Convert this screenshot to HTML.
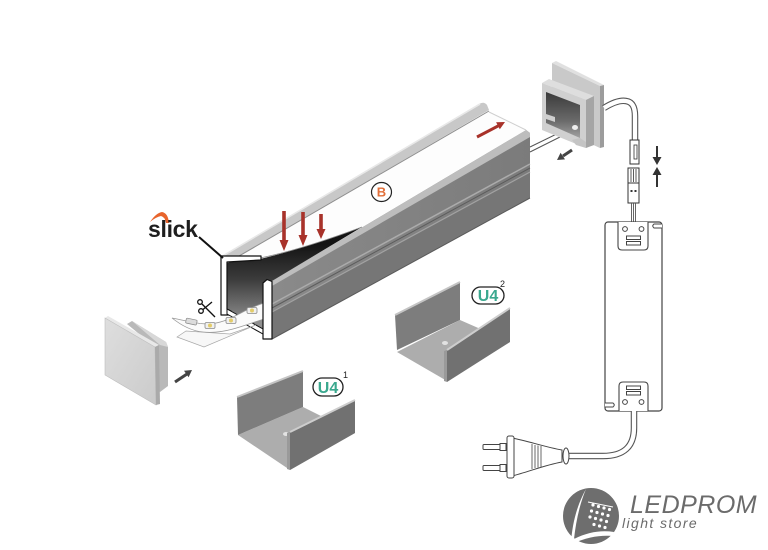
<!DOCTYPE html>
<html><head><meta charset="utf-8">
<style>
html,body{margin:0;padding:0;background:#fff;}
svg{display:block;}
text{font-family:"Liberation Sans",sans-serif;}
</style></head><body>
<svg width="768" height="550" viewBox="0 0 768 550" xmlns="http://www.w3.org/2000/svg">
<defs>
  <linearGradient id="gIn" gradientUnits="userSpaceOnUse" x1="0" y1="245" x2="0" y2="322">
    <stop offset="0" stop-color="#141414"/>
    <stop offset="0.45" stop-color="#3c3c3c"/>
    <stop offset="1" stop-color="#909090"/>
  </linearGradient>
  <linearGradient id="gFace" gradientUnits="userSpaceOnUse" x1="272" y1="0" x2="530" y2="0">
    <stop offset="0" stop-color="#8a8a8a"/>
    <stop offset="1" stop-color="#7b7b7b"/>
  </linearGradient>
  <linearGradient id="gOpen" gradientUnits="userSpaceOnUse" x1="0" y1="92" x2="0" y2="140">
    <stop offset="0" stop-color="#3a3a3a"/>
    <stop offset="0.6" stop-color="#6a6a6a"/>
    <stop offset="1" stop-color="#a8a8a8"/>
  </linearGradient>
  <linearGradient id="gCap" x1="0" y1="0" x2="1" y2="1">
    <stop offset="0" stop-color="#dedede"/>
    <stop offset="1" stop-color="#cbcbcb"/>
  </linearGradient>
</defs>

<!-- ============ MAIN PROFILE ============ -->
<!-- right outer face -->
<polygon points="272,281 526,130 530,133 530,198 272,339" fill="url(#gFace)"/>
<polygon points="272,312 530,172 530,198 272,339" fill="#767676"/>
<polygon points="272,281 526,130 530,133 530,137 272,286" fill="#bdbdbd"/>
<line x1="272" y1="304" x2="530" y2="164" stroke="#ababab" stroke-width="1.5"/>
<line x1="272" y1="308" x2="530" y2="168" stroke="#5c5c5c" stroke-width="1"/>
<line x1="272" y1="312" x2="530" y2="172" stroke="#a2a2a2" stroke-width="1.2"/>
<line x1="272" y1="339" x2="530" y2="198" stroke="#5a5a5a" stroke-width="1"/>

<!-- dark interior / peel wedge -->
<path d="M226,262 L260,259 C290,252 330,239 362,227 L272,281 L263,283 L263,331 L227,311 Z" fill="url(#gIn)"/>

<!-- white cover -->
<path d="M226,260 L484,110 L490,113 L526,130 L362,227 C330,239 290,252 260,258 Z" fill="#fdfdfd"/>
<path d="M260,258 C290,252 330,239 362,227" fill="none" stroke="#8a8a8a" stroke-width="0.8"/>
<line x1="489" y1="112" x2="526" y2="130" stroke="#cfcfcf" stroke-width="1"/>

<!-- top rail -->
<path d="M220,257 L479,104 Q484,101 487,105 L489,110 L228,263 L222,263 Z" fill="#c8c8c8"/>
<line x1="221" y1="257" x2="480" y2="104" stroke="#e8e8e8" stroke-width="1.6"/>
<line x1="227" y1="263" x2="489" y2="111" stroke="#8e8e8e" stroke-width="1"/>

<!-- cross-section: left wall + lip -->
<path d="M221,256 L261,256 L261,260 L227,262 L227,309 L231,311 L231,315 L221,315 Z" fill="#fff" stroke="#111" stroke-width="1.2" stroke-linejoin="round"/>
<!-- floor band -->
<polygon points="227,309 263,329 263,334 227,314" fill="#fff" stroke="#111" stroke-width="1"/>

<!-- release tape -->
<polygon points="177,337 186,331 230,334 256,325 204,347" fill="#f7f7f7" stroke="#a8a8a8" stroke-width="0.7"/>
<!-- LED strip -->
<path d="M172,318 C182,320 190,322 200,323.5 C212,325 224,322 235,316 C245,311 254,306 264,303 L264,319 C254,322 244,326 233,329 C222,332 212,333 203,332 C192,331 182,326 172,318 Z" fill="#fbfbfb" stroke="#9a9a9a" stroke-width="0.8"/>
<rect x="186" y="319" width="11" height="5" rx="1" fill="#dcdcdc" stroke="#888" stroke-width="0.7" transform="rotate(12 191 321)"/>
<g stroke="#8a8a8a" stroke-width="0.8">
  <rect x="205" y="322.5" width="10" height="6" rx="1.5" fill="#f0f0f0"/>
  <rect x="226" y="317.5" width="10" height="6" rx="1.5" fill="#f0f0f0"/>
  <rect x="247" y="307.5" width="10" height="6" rx="1.5" fill="#f0f0f0"/>
</g>
<g fill="#e3cc6a">
  <circle cx="210" cy="325.5" r="2"/>
  <circle cx="231" cy="320.5" r="2"/>
  <circle cx="252" cy="310.5" r="2"/>
</g>

<!-- cross-section: right wall -->
<path d="M263,283 L267,279.5 L272,281.5 L272,339 L263,339 Z" fill="#fff" stroke="#111" stroke-width="1.2" stroke-linejoin="round"/>

<!-- scissors -->
<g stroke="#111" fill="none" stroke-width="1.3">
  <circle cx="200" cy="302" r="2.3"/>
  <circle cx="201" cy="311" r="2.3"/>
  <line x1="202" y1="304" x2="215" y2="317"/>
  <line x1="203" y1="309.5" x2="212" y2="302"/>
</g>

<!-- slick -->
<path d="M150,222 Q156,213 162,212 Q168,213 169,223 L166,223 Q165,217 161,216 Q156,217 150,222 Z" fill="#e8642c"/>
<text x="148" y="237" font-size="23" font-weight="bold" fill="#1e1e1e" letter-spacing="-0.3">slick</text>
<line x1="199" y1="237" x2="223" y2="258" stroke="#111" stroke-width="2"/>

<!-- red arrows -->
<g fill="#a8322a">
  <rect x="282.2" y="211" width="3.6" height="30"/>
  <polygon points="279.5,240 288.5,240 284,251"/>
  <rect x="301.2" y="212" width="3.6" height="24"/>
  <polygon points="298.5,235 307.5,235 303,246"/>
  <rect x="319.2" y="214" width="3.6" height="16"/>
  <polygon points="316.5,229 325.5,229 321,239"/>
  <polygon points="499.8,129.3 496.1,122.2 505,122"/>
</g>
<line x1="477" y1="137" x2="499" y2="125.5" stroke="#a8322a" stroke-width="3"/>

<!-- B label -->
<ellipse cx="381.5" cy="192" rx="10" ry="9.5" fill="#fff" stroke="#222" stroke-width="1.2"/>
<text x="381.5" y="196.5" font-size="13" font-weight="bold" fill="#e2703a" text-anchor="middle">B</text>

<!-- ============ LEFT END CAP ============ -->
<polygon points="127,324 132,321 166,342 168,347 168,386 160,392 157,390 155,347" fill="#b9b9b9"/>
<polygon points="132,321 166,342 168,347 160,345" fill="#d8d8d8"/>
<polygon points="105,318 108,316 159,345 155,347" fill="#e8e8e8"/>
<polygon points="105,318 155,347 156,405 105,375" fill="url(#gCap)" stroke="#bdbdbd" stroke-width="0.6"/>
<polygon points="155,347 159,345 160,404 156,405" fill="#aaaaaa"/>

<!-- grey arrow near left cap -->
<line x1="175" y1="382" x2="187" y2="374" stroke="#444" stroke-width="3"/>
<polygon points="188.6,377.3 184,370.7 192,370" fill="#444"/>

<!-- ============ CLIP 1 ============ -->
<polygon points="238,435 303,407 355,433 290,470" fill="#adadad"/>
<polygon points="237,397 303,371 303,407 238,435" fill="#7d7d7d"/>
<line x1="237" y1="397" x2="303" y2="371" stroke="#c4c4c4" stroke-width="2"/>
<ellipse cx="286" cy="434" rx="3" ry="2" fill="#e2e2e2"/>
<polygon points="290,432 355,400 355,433 290,470" fill="#717171"/>
<line x1="290" y1="432" x2="355" y2="400" stroke="#cdcdcd" stroke-width="2"/>
<polygon points="287,433 290,432 290,470 287,469" fill="#9a9a9a"/>
<rect x="313" y="378" width="30" height="18" rx="9" fill="#fff" stroke="#222" stroke-width="1.3"/>
<text x="328" y="393" font-size="16" font-weight="bold" fill="#3aa88e" text-anchor="middle">U4</text>
<text x="343" y="378" font-size="9" fill="#222">1</text>

<!-- ============ CLIP 2 ============ -->
<polygon points="397,352 460,320 510,342 447,381" fill="#adadad"/>
<polygon points="395,315 460,282 460,320 397,350" fill="#7d7d7d"/>
<line x1="395" y1="315" x2="460" y2="282" stroke="#c4c4c4" stroke-width="2"/>
<ellipse cx="445" cy="343" rx="3" ry="2" fill="#e2e2e2"/>
<polygon points="447,350 510,308 510,342 447,382" fill="#717171"/>
<line x1="447" y1="350" x2="510" y2="308" stroke="#cdcdcd" stroke-width="2"/>
<polygon points="444,351 447,350 447,382 444,381" fill="#9a9a9a"/>
<rect x="472" y="287" width="32" height="17" rx="8.5" fill="#fff" stroke="#222" stroke-width="1.3"/>
<text x="488" y="301" font-size="16" font-weight="bold" fill="#3aa88e" text-anchor="middle">U4</text>
<text x="500" y="287" font-size="9" fill="#222">2</text>

<!-- ============ RIGHT END CAP ============ -->
<!-- rod -->
<polygon points="530,147 573,126 576,129 530,152" fill="#fff"/>
<line x1="530" y1="147" x2="573" y2="126" stroke="#555" stroke-width="1"/>
<line x1="530" y1="152" x2="576" y2="129" stroke="#555" stroke-width="1"/>
<!-- back plate -->
<polygon points="552,63 556,61 604,85 600,86" fill="#e0e0e0"/>
<polygon points="552,63 600,86 600,148 552,126" fill="#c9c9c9"/>
<polygon points="600,86 604,85 604,147 600,148" fill="#9c9c9c"/>
<!-- block -->
<polygon points="542,83 549,79 594,96 586,100" fill="#dedede"/>
<polygon points="586,100 594,96 594,145 586,148" fill="#a5a5a5"/>
<polygon points="542,83 586,100 586,148 542,130" fill="#d0d0d0"/>
<polygon points="546,92 580,105 580,138 546,123" fill="url(#gOpen)"/>
<polygon points="546,114 555,117 555,122 546,119" fill="#cfcfcf"/>
<ellipse cx="575" cy="127.5" rx="3" ry="2.5" fill="#eee"/>
<polygon points="572,140 580,138 586,142 586,148 576,145" fill="#c4c4c4"/>

<!-- grey arrow near right cap -->
<line x1="572" y1="150" x2="563" y2="156" stroke="#444" stroke-width="3"/>
<polygon points="565,159.4 560.6,152.8 557,160" fill="#444"/>

<!-- cable from cap -->
<path d="M604,108 C612,103 620,100 626,101 C633,102 635,108 635,116 L635,140" fill="none" stroke="#555" stroke-width="6.5"/>
<path d="M604,108 C612,103 620,100 626,101 C633,102 635,108 635,116 L635,140" fill="none" stroke="#fff" stroke-width="4.3"/>
<!-- upper connector -->
<rect x="630" y="140" width="9" height="24" fill="#fff" stroke="#333" stroke-width="1"/>
<rect x="634" y="145" width="3" height="14" fill="#fff" stroke="#333" stroke-width="0.8"/>
<!-- lower connector -->
<rect x="628" y="168" width="11" height="15" fill="#fff" stroke="#333" stroke-width="1"/>
<g stroke="#333" stroke-width="0.8">
  <line x1="631" y1="169" x2="631" y2="182"/>
  <line x1="633.5" y1="169" x2="633.5" y2="182"/>
  <line x1="636" y1="169" x2="636" y2="182"/>
</g>
<rect x="628" y="183" width="11" height="20" fill="#fff" stroke="#333" stroke-width="1"/>
<rect x="630.5" y="190" width="2" height="2" fill="#333"/>
<rect x="634.5" y="190" width="2" height="2" fill="#333"/>
<g stroke="#555" stroke-width="0.9">
  <line x1="631.5" y1="203" x2="631.5" y2="222"/>
  <line x1="633.5" y1="203" x2="633.5" y2="222"/>
  <line x1="635.5" y1="203" x2="635.5" y2="222"/>
</g>

<!-- compression arrows -->
<g fill="#333">
  <rect x="656" y="146" width="2" height="12"/>
  <polygon points="652.5,157 661.5,157 657,165"/>
  <polygon points="657,167 652.5,175 661.5,175"/>
  <rect x="656" y="174" width="2" height="13"/>
</g>

<!-- ============ DRIVER ============ -->
<rect x="605" y="222" width="57" height="189" rx="3" fill="#fff" stroke="#444" stroke-width="1.2"/>
<path d="M618,222 L618,246 Q618,250 622,250 L644,250 Q648,250 648,246 L648,222" fill="#fff" stroke="#444" stroke-width="1.1"/>
<circle cx="625" cy="229" r="2.4" fill="none" stroke="#444" stroke-width="1"/>
<circle cx="641.5" cy="229" r="2.4" fill="none" stroke="#444" stroke-width="1"/>
<rect x="626.5" y="236" width="14" height="3.5" fill="none" stroke="#444" stroke-width="1"/>
<rect x="626.5" y="241.5" width="14" height="3.5" fill="none" stroke="#444" stroke-width="1"/>
<path d="M662,224 L654,224 Q651.5,226 654,228 L662,228" fill="#fff" stroke="#444" stroke-width="1"/>
<path d="M619,411 L619,386 Q619,382 623,382 L644,382 Q648,382 648,386 L648,411" fill="#fff" stroke="#444" stroke-width="1.1"/>
<rect x="626.5" y="386" width="14" height="3.5" fill="none" stroke="#444" stroke-width="1"/>
<rect x="626.5" y="391.5" width="14" height="3.5" fill="none" stroke="#444" stroke-width="1"/>
<circle cx="625" cy="402" r="2.4" fill="none" stroke="#444" stroke-width="1"/>
<circle cx="641.5" cy="402" r="2.4" fill="none" stroke="#444" stroke-width="1"/>
<path d="M605,403 L613,403 Q615.5,405 613,407 L605,407" fill="#fff" stroke="#444" stroke-width="1"/>

<!-- mains cable -->
<path d="M567,456 L603,456 Q634,456 634,428 L634,411" fill="none" stroke="#555" stroke-width="6.5"/>
<path d="M567,456 L603,456 Q634,456 634,428 L634,411" fill="none" stroke="#fff" stroke-width="4.3"/>

<!-- plug -->
<g stroke="#444" stroke-width="1" fill="#fff">
  <rect x="483" y="444.5" width="22" height="5" rx="1"/>
  <rect x="483" y="465.5" width="22" height="5" rx="1"/>
  <rect x="500" y="443.5" width="6" height="7"/>
  <rect x="500" y="464.5" width="6" height="7"/>
  <path d="M512,438 C528,441 545,447 562,450 L562,462 C545,465 528,472 512,476 Z"/>
  <rect x="507" y="436" width="7" height="42" rx="2"/>
  <ellipse cx="566" cy="456" rx="3" ry="8"/>
</g>
<g stroke="#444" stroke-width="0.8">
  <line x1="532" y1="444" x2="532" y2="469"/>
  <line x1="535" y1="445" x2="535" y2="468"/>
  <line x1="538" y1="445.5" x2="538" y2="467.5"/>
  <line x1="541" y1="446" x2="541" y2="467"/>
</g>

<!-- ============ LOGO ============ -->
<circle cx="591" cy="516" r="28" fill="#6e6e6e"/>
<path d="M586,489 C579,506 576,522 574,539 C588,532 601,530 614,532 L612,536 C600,535 588,537 571,544 C572,524 577,505 586,489 Z" fill="#fff"/>
<g fill="#fff">
  <circle cx="593" cy="505" r="1.6"/><circle cx="598.5" cy="506.5" r="1.6"/><circle cx="604" cy="508" r="1.6"/><circle cx="609.5" cy="509.5" r="1.6"/>
  <circle cx="591.5" cy="511" r="1.6"/><circle cx="597" cy="512.5" r="1.6"/><circle cx="602.5" cy="514" r="1.6"/><circle cx="608" cy="515.5" r="1.6"/>
  <circle cx="590" cy="517" r="1.6"/><circle cx="595.5" cy="518.5" r="1.6"/><circle cx="601" cy="520" r="1.6"/><circle cx="606.5" cy="521.5" r="1.6"/>
  <circle cx="594" cy="524.5" r="1.6"/><circle cx="599.5" cy="526" r="1.6"/><circle cx="605" cy="527.5" r="1.6"/>
</g>
<line x1="588" y1="502" x2="613" y2="507" stroke="#fff" stroke-width="1"/>
<text x="630" y="513" font-size="25" font-style="italic" fill="#6b6b6b" letter-spacing="0.5">LEDPROM</text>
<text x="622" y="528" font-size="14" font-style="italic" fill="#6b6b6b" letter-spacing="1.4">light store</text>
</svg>
</body></html>
